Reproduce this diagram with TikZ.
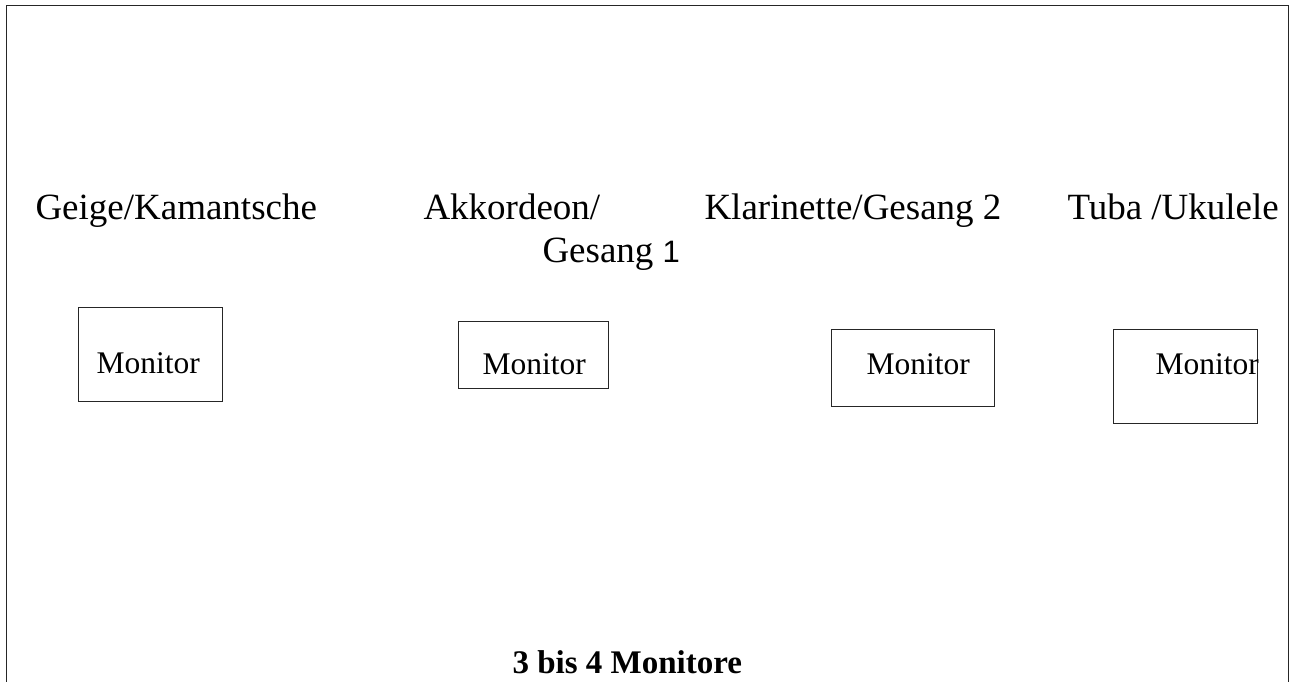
\documentclass[tikz,border=0pt]{standalone}
\usepackage{fontspec}
\setmainfont{Liberation Serif}
\newfontfamily\onefont{Liberation Sans}

\begin{document}
\begin{tikzpicture}[x=1pt,y=-1pt,line width=1pt]
	\newcommand{\myboxcolor}{black!85}
	\newcommand{\myframecolor}{black!85}
	\tikzset{
		title/.style={anchor=base west,inner sep=0pt,font=\fontsize{37}{43}\selectfont},
		montext/.style={anchor=base west,inner sep=0pt,font=\fontsize{31.5}{37}\selectfont},
		monbox/.style={draw=\myboxcolor}
	}

		\def\paper{(0,0) rectangle (1294,682)}
		\def\boxA{(78,307) rectangle (222,401)}
		\def\boxB{(458,321) rectangle (608,388)}
		\def\boxC{(831,329) rectangle (994,406)}
		\def\boxD{(1113,329) rectangle (1257,423)}

		\useasboundingbox \paper;
		\draw[\myframecolor] (6,682) -- (6,6) -- (1288,6) -- (1288,682);

		% stage positions
		\node[title] (geige) at (35,219) {Geige/Kamantsche};
		\node[title] (akkordeon) at (423,219) {Akkordeon/};
		\node[title] (gesang) at (542,262) {Gesang {\onefont\fontsize{31}{37}\selectfont 1}};
		\node[title] (klarinette) at (704,219) {Klarinette/Gesang 2};
		\node[title] (tuba) at (1067,219) {Tuba /Ukulele};

		% monitors
		\draw[monbox] \boxA;
		\draw[monbox] \boxB;
		\draw[monbox] \boxC;
		\draw[monbox] \boxD;
		\node[montext] (monA) at (96,373) {Monitor};
		\node[montext] (monB) at (482,374) {Monitor};
		\node[montext] (monC) at (866,374) {Monitor};
		\node[montext] (monD) at (1155,374) {Monitor};

		\node[anchor=base west,inner sep=0pt,font=\fontsize{33}{39}\selectfont\bfseries] (note) at (512,673) {3 bis 4 Monitore};
	\end{tikzpicture}
\end{document}
